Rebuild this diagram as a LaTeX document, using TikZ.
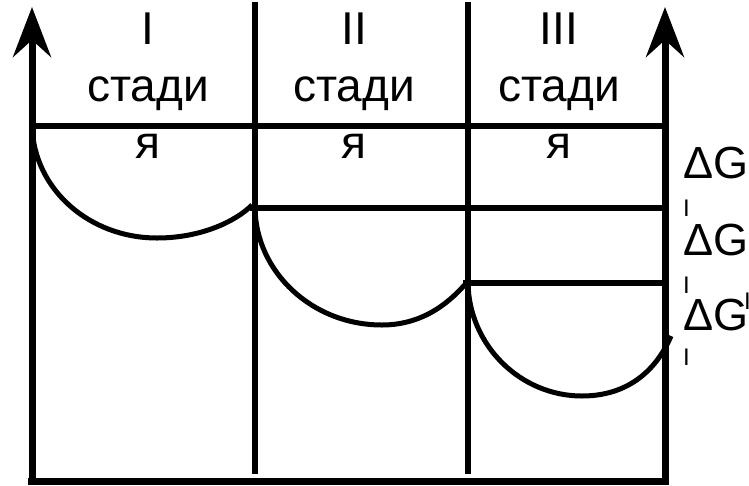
\documentclass[tikz,border=0pt]{standalone}
\usepackage{fontspec}
\setmainfont{Liberation Sans}
\usetikzlibrary{arrows.meta}

\begin{document}
\begin{tikzpicture}[x=1pt, y=-1pt,
    axis/.style={line width=7pt, -{Stealth[length=50pt, width=38pt, inset=17pt]}},
    grid/.style={line width=6pt},
    curve/.style={line width=5pt},
    stage/.style={align=center, anchor=north, inner sep=0pt, font=\fontsize{46}{57}\selectfont},
    dg/.style={anchor=base west, inner sep=0pt, font=\fontsize{45}{50}\selectfont},
    idx/.style={anchor=north west, inner sep=0pt, font=\fontsize{24}{26}\selectfont}]
    \useasboundingbox (0,0) rectangle (749,485);
    \fill[white] (0,0) rectangle (749,485);

    % axes and frame
    \draw[axis] (32,485) -- (32,7);
    \draw[axis] (665,485) -- (665,7);
    \draw[line width=7pt] (28,481) -- (669,481);

    \draw[grid] (255,2) -- (255,474);
    \draw[grid] (468,2) -- (468,474);
    \draw[grid] (32,126) -- (665,126);
    \draw[grid] (250,208) -- (665,208);
    \draw[grid] (463,283) -- (665,283);

    % energy wells
    \draw[curve] (32,126) .. controls (34,190) and (90,238) .. (157,238)
        .. controls (200,238) and (235,222) .. (252,205);
    \draw[curve] (255,208) .. controls (256,272) and (312,325) .. (382,325)
        .. controls (425,325) and (452,300) .. (468,281);
    \draw[curve] (468,283) .. controls (469,345) and (520,396) .. (582,396)
        .. controls (635,396) and (660,362) .. (671,336);

    \node[stage] (s1) at (148,13) {I\\стади\\я};
    \node[stage] (s2) at (354,13) {II\\стади\\я};
    \node[stage] (s3) at (559,13) {III\\стади\\я};

    \node[dg] (dg1) at (683,178) {ΔG};
    \node[dg] (dg2) at (683,255) {ΔG};
    \node[dg] (dg3) at (683,330) {ΔG};
    \node[idx] (i1) at (683,200) {I};
    \node[idx] (i2) at (683,277) {I};
    \node[idx] (i3) at (683,349) {I};
    \node[idx] (i4) at (744,293) {I};
\end{tikzpicture}
\end{document}
